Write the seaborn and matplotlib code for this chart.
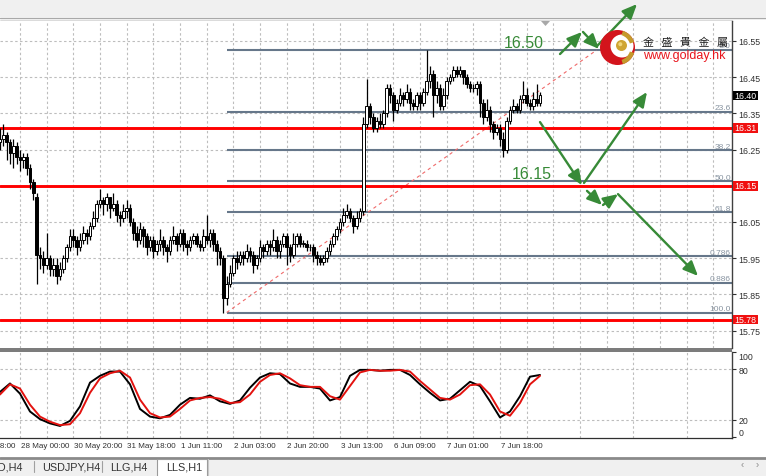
import numpy as np
import pandas as pd
import matplotlib
matplotlib.use("Agg")
import matplotlib.pyplot as plt
import seaborn as sns
from matplotlib.patches import Rectangle, Circle, Wedge, Polygon
from matplotlib.transforms import blended_transform_factory

sns.set_style("white")
NARROW = ["Liberation Sans Narrow", "Liberation Sans", "DejaVu Sans"]
plt.rcParams["font.family"] = NARROW

# ---------------- LLS H1 price bars ----------------
opens = [16.27, 16.28, 16.29, 16.27, 16.24, 16.26, 16.23, 16.22, 16.23, 16.20,
         16.16, 16.12, 15.96, 15.95, 15.93, 15.95, 15.92, 15.93, 15.90, 15.92,
         15.95, 15.98, 16.01, 16.00, 15.98, 16.00, 16.02, 16.01, 16.04, 16.06,
         16.10, 16.11, 16.10, 16.12, 16.09, 16.10, 16.07, 16.06, 16.08, 16.09,
         16.05, 16.02, 16.00, 16.03, 16.01, 15.98, 16.00, 15.97, 15.99, 16.00,
         15.98, 15.97, 16.00, 16.01, 15.99, 16.02, 15.99, 15.98, 16.00, 16.01,
         15.99, 15.98, 16.01, 16.00, 16.02, 15.99, 15.97, 15.95, 15.84, 15.88,
         15.91, 15.95, 15.94, 15.96, 15.95, 15.97, 15.96, 15.93, 15.95, 15.98,
         15.97, 15.99, 15.98, 16.00, 15.97, 15.99, 16.01, 15.98, 15.96, 15.99,
         16.01, 15.99, 15.99, 15.98, 15.98, 15.96, 15.95, 15.94, 15.95, 15.97,
         15.99, 16.01, 16.03, 16.05, 16.07, 16.08, 16.06, 16.04, 16.06, 16.08,
         16.32, 16.37, 16.34, 16.31, 16.33, 16.32, 16.35, 16.42, 16.40, 16.36,
         16.38, 16.40, 16.39, 16.41, 16.38, 16.37, 16.40, 16.38, 16.41, 16.44,
         16.46, 16.40, 16.42, 16.37, 16.40, 16.44, 16.45, 16.47, 16.46, 16.47,
         16.45, 16.43, 16.42, 16.42, 16.43, 16.38, 16.34, 16.36, 16.32, 16.30,
         16.31, 16.28, 16.25, 16.33, 16.36, 16.37, 16.36, 16.39, 16.40, 16.38,
         16.37, 16.39, 16.38]
highs = [16.31, 16.32, 16.30, 16.28, 16.28, 16.27, 16.25, 16.24, 16.24, 16.21,
         16.17, 16.13, 15.98, 15.97, 16.02, 15.96, 15.95, 15.95, 15.94, 15.96,
         15.99, 16.03, 16.03, 16.01, 16.02, 16.04, 16.03, 16.05, 16.08, 16.11,
         16.14, 16.12, 16.13, 16.12, 16.13, 16.11, 16.08, 16.10, 16.11, 16.10,
         16.06, 16.04, 16.05, 16.04, 16.02, 16.01, 16.01, 16.00, 16.03, 16.01,
         15.99, 16.01, 16.04, 16.02, 16.03, 16.03, 16.00, 16.01, 16.02, 16.02,
         16.00, 16.03, 16.07, 16.03, 16.03, 16.00, 15.98, 15.96, 15.90, 15.93,
         15.96, 15.97, 15.97, 15.97, 15.99, 15.98, 15.97, 15.96, 16.00, 15.99,
         16.00, 16.00, 16.03, 16.01, 16.00, 16.02, 16.02, 15.99, 16.02, 16.02,
         16.02, 16.00, 16.00, 15.99, 15.99, 15.97, 15.96, 15.96, 15.98, 16.00,
         16.02, 16.04, 16.06, 16.09, 16.10, 16.09, 16.07, 16.08, 16.09, 16.34,
         16.445, 16.38, 16.35, 16.34, 16.35, 16.36, 16.43, 16.43, 16.41, 16.39,
         16.42, 16.41, 16.43, 16.42, 16.39, 16.41, 16.41, 16.42, 16.525, 16.48,
         16.47, 16.44, 16.43, 16.42, 16.45, 16.46, 16.48, 16.48, 16.48, 16.47,
         16.46, 16.44, 16.43, 16.44, 16.44, 16.39, 16.39, 16.37, 16.33, 16.32,
         16.32, 16.30, 16.34, 16.37, 16.39, 16.38, 16.40, 16.44, 16.42, 16.39,
         16.41, 16.43, 16.41]
lows = [16.25, 16.26, 16.22, 16.21, 16.20, 16.21, 16.19, 16.20, 16.18, 16.14,
        16.11, 15.88, 15.92, 15.91, 15.92, 15.90, 15.90, 15.88, 15.89, 15.91,
        15.94, 15.97, 15.98, 15.96, 15.97, 15.99, 15.99, 16.00, 16.03, 16.05,
        16.09, 16.07, 16.08, 16.06, 16.08, 16.05, 16.04, 16.05, 16.06, 16.04,
        16.00, 15.98, 15.99, 15.98, 15.96, 15.97, 15.95, 15.96, 15.97, 15.96,
        15.94, 15.96, 15.99, 15.97, 15.98, 15.97, 15.96, 15.97, 15.99, 15.98,
        15.97, 15.97, 15.99, 15.98, 15.97, 15.93, 15.93, 15.80, 15.82, 15.87,
        15.90, 15.92, 15.93, 15.93, 15.94, 15.94, 15.91, 15.92, 15.94, 15.95,
        15.96, 15.96, 15.97, 15.95, 15.95, 15.98, 15.93, 15.94, 15.95, 15.98,
        15.98, 15.98, 15.97, 15.97, 15.94, 15.93, 15.93, 15.93, 15.94, 15.96,
        15.98, 16.00, 16.02, 16.04, 16.06, 16.05, 16.02, 16.03, 16.05, 16.07,
        16.31, 16.32, 16.30, 16.30, 16.31, 16.31, 16.34, 16.38, 16.33, 16.35,
        16.37, 16.37, 16.38, 16.36, 16.36, 16.36, 16.36, 16.37, 16.40, 16.42,
        16.34, 16.38, 16.36, 16.36, 16.39, 16.43, 16.44, 16.45, 16.45, 16.43,
        16.42, 16.41, 16.41, 16.40, 16.34, 16.32, 16.33, 16.30, 16.28, 16.29,
        16.26, 16.23, 16.24, 16.32, 16.35, 16.35, 16.35, 16.38, 16.37, 16.36,
        16.36, 16.37, 16.37]
closes = [16.28, 16.29, 16.27, 16.24, 16.26, 16.23, 16.22, 16.23, 16.20, 16.16,
          16.13, 15.96, 15.95, 15.93, 15.95, 15.92, 15.93, 15.90, 15.92, 15.95,
          15.98, 16.01, 16.00, 15.98, 16.00, 16.02, 16.01, 16.04, 16.06, 16.10,
          16.11, 16.10, 16.12, 16.09, 16.10, 16.07, 16.06, 16.08, 16.09, 16.05,
          16.02, 16.00, 16.03, 16.01, 15.98, 16.00, 15.97, 15.99, 16.00, 15.98,
          15.97, 16.00, 16.01, 15.99, 16.02, 15.99, 15.98, 16.00, 16.01, 15.99,
          15.98, 16.01, 16.00, 16.02, 15.99, 15.97, 15.95, 15.84, 15.88, 15.91,
          15.95, 15.94, 15.96, 15.95, 15.97, 15.96, 15.93, 15.95, 15.98, 15.97,
          15.99, 15.98, 16.00, 15.97, 15.99, 16.01, 15.98, 15.96, 15.99, 16.01,
          15.99, 15.99, 15.98, 15.98, 15.96, 15.95, 15.94, 15.95, 15.97, 15.99,
          16.01, 16.03, 16.05, 16.07, 16.08, 16.06, 16.04, 16.06, 16.08, 16.32,
          16.37, 16.34, 16.31, 16.33, 16.32, 16.35, 16.42, 16.40, 16.36, 16.38,
          16.40, 16.39, 16.41, 16.38, 16.37, 16.40, 16.38, 16.41, 16.44, 16.46,
          16.40, 16.42, 16.37, 16.40, 16.44, 16.45, 16.47, 16.46, 16.47, 16.45,
          16.43, 16.42, 16.42, 16.43, 16.38, 16.34, 16.36, 16.32, 16.30, 16.31,
          16.28, 16.25, 16.33, 16.36, 16.37, 16.36, 16.39, 16.40, 16.38, 16.37,
          16.39, 16.38, 16.40]

# time-axis labels (every 16 bars, first one starts before the left edge)
time_labels = ["27 May 08:00", "28 May 00:00", "30 May 20:00", "31 May 18:00",
               "1 Jun 11:00", "2 Jun 03:00", "2 Jun 20:00", "3 Jun 13:00",
               "6 Jun 09:00", "7 Jun 01:00", "7 Jun 18:00"]
time_label_bars = [-10, 6, 22, 38, 54, 70, 86, 102, 118, 134, 150]

price_ticks = [16.55, 16.45, 16.35, 16.25, 16.15, 16.05, 15.95, 15.85, 15.75]

# horizontal support / resistance lines
key_levels = [16.31, 16.15, 15.78]

# Fibonacci retracement (low anchor -> high anchor)
fib_low, fib_high = 15.80, 16.525
fib_low_bar, fib_high_bar = 68, 179
fib_ratios = [0.0, 23.6, 38.2, 50.0, 61.8, 78.6, 88.6, 100.0]
fib_names = ["0.0", "23.6", "38.2", "50.0", "61.8", "0.786", "0.886", "100.0"]

# Stochastic oscillator (%K black, %D red), sampled every 3 bars
sto_bars = list(range(0, 163, 3))
sto_k = [53, 63, 51, 30, 21, 16, 13, 19, 36, 64, 72, 77, 77, 62, 33, 24, 22, 26,
         38, 46, 45, 49, 42, 39, 43, 58, 70, 75, 74, 63, 59, 59, 57, 43, 47, 72,
         79, 79, 78, 79, 79, 73, 62, 52, 43, 45, 55, 65, 60, 42, 23, 30, 48, 71, 73]
sto_d = [50, 62, 57, 38, 24, 18, 14, 15, 28, 52, 69, 75, 78, 70, 44, 28, 23, 24,
         33, 43, 46, 47, 45, 40, 41, 50, 65, 73, 75, 69, 61, 59, 59, 48, 44, 60,
         76, 79, 78, 78, 79, 77, 66, 56, 46, 44, 50, 61, 62, 50, 30, 25, 40, 62, 72]

# projected path arrows (bar, price) -> (bar, price)
arrows = [
    (162.0, 16.326, 174.6, 16.152),
    (175.2, 16.158, 194.1, 16.409),
    (176.1, 16.136, 180.6, 16.097),
    (180.9, 16.097, 185.4, 16.127),
    (185.4, 16.127, 209.4, 15.901),
    (168.0, 16.514, 174.6, 16.575),
    (174.9, 16.575, 179.7, 16.528),
    (179.1, 16.536, 191.1, 16.652),
]
target_labels = [("16.50", 157.2, 16.545), ("16.15", 159.6, 16.183)]

# ---------------- layout (pixels) ----------------
W, H = 766, 477
PLOT_R = 732
MAIN_T, MAIN_B = 22, 349.3
STO_T, STO_B = 352.7, 439
BAR_PX = 10 / 3
PX_PER_PRICE = 362.0
REF_PRICE, REF_Y = 16.55, 42.0
N_VIEW = PLOT_R / BAR_PX

GREEN = "#378a37"
GRID = dict(color="#bdbdbd", lw=0.8, linestyle=(0, (2.2, 2.2)))
AXIS_FS = 6.3


def rect(x0, y0, x1, y1):
    return [x0 / W, 1 - y1 / H, (x1 - x0) / W, (y1 - y0) / H]


fig = plt.figure(figsize=(W / 100, H / 100), dpi=100, facecolor="white")

# window chrome behind the panels
bg = fig.add_axes([0, 0, 1, 1], zorder=0)
bg.set_xlim(0, W); bg.set_ylim(H, 0); bg.axis("off")
bg.add_patch(Rectangle((0, 0), W, 18, fc="#f0f0f0", ec="none"))
bg.plot([0, W], [18.7, 18.7], color="#a9a9a9", lw=1)
bg.plot([0, PLOT_R], [21.6, 21.6], color="#4a4a4a", lw=1)
bg.add_patch(Rectangle((0, MAIN_B), PLOT_R, STO_T - MAIN_B, fc="#7c7c7c", ec="none"))
bg.add_patch(Rectangle((0, 459), W, H - 459, fc="#f0f0f0", ec="none"))
bg.plot([0, W], [458.6, 458.6], color="#8a8a8a", lw=2)
bg.add_patch(Rectangle((157, 459.5), 50, 18, fc="white", ec="none"))
bg.plot([157, 157, 207, 207], [477, 459.5, 459.5, 477], color="#9a9a9a", lw=0.8)
bg.plot([207.8, 207.8], [460, 477], color="#c8c8c8", lw=0.8)
for sx in (34, 102):
    bg.plot([sx, sx], [462, 473], color="#a0a0a0", lw=0.8)
tab_font = dict(fontsize=7.8, color="#333333", va="center")
bg.text(23, 467.5, "GOLD,H4", ha="right", **tab_font)
bg.text(42, 467.5, "USDJPY,H4", ha="left", **tab_font)
bg.text(110, 467.5, "LLG,H4", ha="left", **tab_font)
bg.text(166, 467.5, "LLS,H1", ha="left", **tab_font)
bg.text(742, 465.5, "\u2039", ha="center", va="center", fontsize=7, color="#8a8a8a")
bg.text(757, 465.5, "\u203a", ha="center", va="center", fontsize=7, color="#8a8a8a")

# ---------------- price panel ----------------
ax = fig.add_axes(rect(0, MAIN_T, PLOT_R, MAIN_B), zorder=1)
ax.set_facecolor("white")
ax.set_xlim(0, N_VIEW)
ax.set_ylim(REF_PRICE - (MAIN_B - REF_Y) / PX_PER_PRICE,
            REF_PRICE + (REF_Y - MAIN_T) / PX_PER_PRICE)
for s in ("top", "left", "bottom"):
    ax.spines[s].set_visible(False)
ax.spines["right"].set_color("#404040")
ax.spines["right"].set_linewidth(1)
ax.yaxis.tick_right()
ax.set_yticks(price_ticks)
ax.set_yticklabels(["" if abs(p - 16.15) < 1e-6 else f"{p:.2f}" for p in price_ticks])
ax.tick_params(axis="y", direction="out", length=3, width=0.8, colors="#303030",
               labelsize=AXIS_FS, pad=1.8)
grid_bars = np.arange(6, N_VIEW, 8)
ax.set_xticks(grid_bars)
ax.set_xticklabels([])
ax.tick_params(axis="x", length=0)
ax.grid(True, **GRID)
ax.set_axisbelow(True)

# Fibonacci levels, labels and trend line
tr_main = blended_transform_factory(ax.transAxes, ax.transData)
for r, name in zip(fib_ratios, fib_names):
    lvl = fib_high - (fib_high - fib_low) * r / 100.0
    ax.hlines(lvl, fib_low_bar, N_VIEW, color="#66778a", lw=1.5, zorder=2)
    ax.text(0.9985, lvl + 0.002, name, transform=tr_main, ha="right", va="bottom",
            fontsize=6, color="#8793a0", zorder=2)
ax.plot([fib_low_bar, fib_high_bar], [fib_low, fib_high], color="#f06a6a", lw=0.8,
        linestyle=(0, (3, 3)), zorder=2)

for lvl in key_levels:
    ax.axhline(lvl, color="#ff0000", lw=2.1, zorder=2.5)

# candlesticks
o = np.array(opens); h = np.array(highs); l = np.array(lows); c = np.array(closes)
xb = np.arange(len(c))
up = c >= o
ax.vlines(xb, l, h, color="black", lw=0.9, zorder=3)
body_lo = np.minimum(o, c)
body_h = np.maximum(np.abs(c - o), 0.0015)
ax.bar(xb[up], body_h[up], bottom=body_lo[up], width=0.8, color="white",
       edgecolor="black", linewidth=0.7, zorder=4)
ax.bar(xb[~up], body_h[~up], bottom=body_lo[~up], width=0.8, color="black",
       edgecolor="black", linewidth=0.7, zorder=4)

# value boxes on the price scale
box_h = 9.5 / PX_PER_PRICE


def value_box(price, face):
    ax.add_patch(Rectangle((733 / PLOT_R, price - box_h / 2), 25 / PLOT_R, box_h,
                           transform=tr_main, fc=face, ec="none", clip_on=False, zorder=6))
    ax.text(745.5 / PLOT_R, price, f"{price:.2f}", transform=tr_main, ha="center",
            va="center", fontsize=AXIS_FS, color="white", clip_on=False, zorder=7)


for lvl in key_levels:
    value_box(lvl, "#f01010")
value_box(closes[-1], "#000000")

# projected path arrows and target labels
for x0, y0, x1, y1 in arrows:
    ann = ax.annotate("", xy=(x1, y1), xytext=(x0, y0), annotation_clip=False,
                      arrowprops=dict(arrowstyle="-|>,head_length=0.8,head_width=0.35",
                                      color=GREEN, lw=1.7, shrinkA=0, shrinkB=0,
                                      mutation_scale=11))
    ann.set_zorder(8)
    ann.arrow_patch.set_clip_on(False)
for txt, bx, py in target_labels:
    ax.text(bx, py, txt, ha="center", va="center", fontsize=11.5, color=GREEN,
            family=["Liberation Sans", "DejaVu Sans"], zorder=8)

# ---------------- stochastic panel ----------------
ax2 = fig.add_axes(rect(0, STO_T, PLOT_R, STO_B), zorder=1)
ax2.set_facecolor("white")
ax2.set_xlim(0, N_VIEW)
ax2.set_ylim(-1.2, 100.4)
for s in ("top", "left"):
    ax2.spines[s].set_visible(False)
ax2.spines["right"].set_color("#404040")
ax2.spines["right"].set_linewidth(1)
ax2.spines["bottom"].set_color("#303030")
ax2.spines["bottom"].set_linewidth(0.9)
ax2.spines["bottom"].set_linestyle((0, (2, 1)))
ax2.yaxis.tick_right()
ax2.set_yticks([100, 80, 20, 0])
ax2.set_yticklabels(["100", "80", "20", "0"])
ax2.tick_params(axis="y", direction="out", length=3, width=0.8, colors="#303030",
                labelsize=AXIS_FS, pad=1.8)
ylabs = ax2.get_yticklabels()
ylabs[0].set_va("top")
ylabs[-1].set_va("bottom")
ax2.set_xticks([b for b in time_label_bars if b >= 0])
ax2.set_xticks(grid_bars[1::2], minor=True)
ax2.set_xticklabels([])
ax2.tick_params(axis="x", which="major", direction="out", length=4, width=0.8,
                colors="#303030")
ax2.tick_params(axis="x", which="minor", length=0)
ax2.grid(True, axis="x", which="both", **GRID)
for lvl in (80, 20):
    ax2.axhline(lvl, **GRID)
ax2.set_axisbelow(True)

sto = pd.DataFrame({"bar": sto_bars, "k": sto_k, "d": sto_d})
sns.lineplot(data=sto, x="bar", y="k", color="black", lw=1.4, ax=ax2, zorder=3)
sns.lineplot(data=sto, x="bar", y="d", color="#e3120f", lw=1.4, ax=ax2, zorder=4)
ax2.set_xlabel(""); ax2.set_ylabel("")

tr_time = blended_transform_factory(ax2.transData, ax2.transAxes)
for b, lab in zip(time_label_bars, time_labels):
    ax2.text(b + 0.2, -0.045, lab, transform=tr_time, ha="left", va="top",
             fontsize=5.8, color="#303030", clip_on=False)

# ---------------- overlay: shift marker and logo ----------------
ov = fig.add_axes([0, 0, 1, 1], zorder=20)
ov.set_xlim(0, W); ov.set_ylim(H, 0); ov.axis("off")
ov.patch.set_alpha(0)
ov.add_patch(Polygon([(541, 22), (550, 22), (545.5, 27)], closed=True,
                     fc="#a8a8a8", ec="none"))
cx, cy, R = 617.5, 48.5, 17.5
ov.add_patch(Circle((cx, cy), R, fc="#d3141c", ec="none"))
ov.add_patch(Circle((cx + 4.5, cy - 1.5), 11.5, fc="white", ec="none"))
ov.add_patch(Wedge((cx, cy), R, -72, -18, width=4.5, fc="#c49a2c", ec="none"))
ov.add_patch(Wedge((cx, cy), R, 18, 72, width=4.5, fc="#c49a2c", ec="none"))
ov.add_patch(Circle((cx + 4, cy - 2), 5.5, fc="#cfa533", ec="none"))
ov.add_patch(Circle((cx + 2.8, cy - 3.3), 2.0, fc="#f0d67a", ec="none"))
ov.text(643, 42.5, "金   盛   貴   金   屬", ha="left", va="center", fontsize=7.9,
        color="#1e1e1e", family=["Noto Sans CJK TC", "DejaVu Sans"])
ov.text(643, 56.5, "www.golday.hk", ha="left", va="center", fontsize=9,
        color="#e8141c", family=["Liberation Sans", "DejaVu Sans"])

fig.savefig("out.png", dpi=100)
